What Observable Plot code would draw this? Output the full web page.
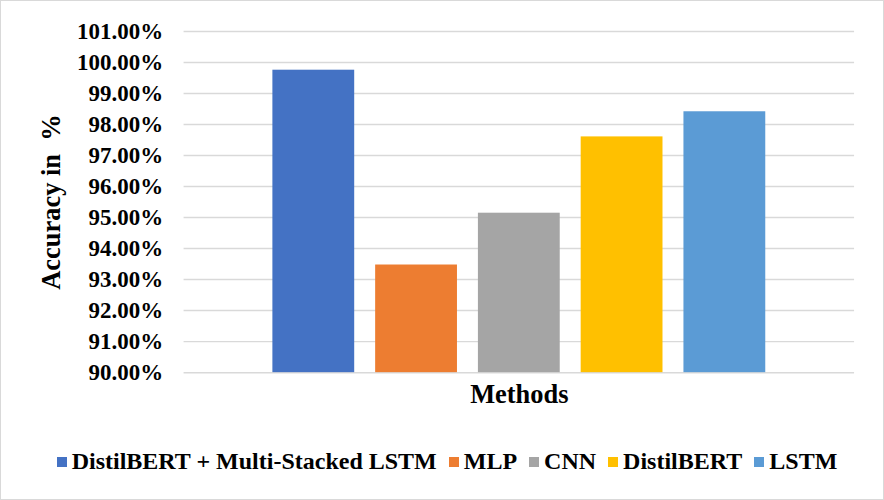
<!DOCTYPE html>
<html>
<head>
<meta charset="utf-8">
<script src="https://cdn.jsdelivr.net/npm/d3@7"></script>
<script src="https://cdn.jsdelivr.net/npm/@observablehq/plot@0.6"></script>
<style>
  html, body { margin: 0; padding: 0; background: #fff; }
  body, #chart, #chart * {
    font-family: "Liberation Serif", "Times New Roman", serif !important;
    font-weight: bold;
  }
  #chart {
    box-sizing: border-box;
    width: 884px; height: 500px;
    border: 1.5px solid #d9d9d9;
    position: relative;
    overflow: hidden;
  }
  #chart svg { position: absolute; left: -1.5px; top: -1.5px; }
  .legend {
    position: absolute; left: 10px; right: 0; top: 447px;
    display: flex; justify-content: center; align-items: center;
    font-size: 24px; color: #000; white-space: nowrap;
  }
  .legend .item { display: flex; align-items: center; margin: 0 6px; }
  .legend .sw { width: 10px; height: 10px; margin-right: 5px; }
</style>
</head>
<body>
<div id="chart"></div>
<script>
// Methods compared and their accuracy (%)
const methods = ["DistilBERT + Multi-Stacked LSTM", "MLP", "CNN", "DistilBERT", "LSTM"];
const accuracy = [99.75, 93.47, 95.14, 97.60, 98.41];
const colors = ["#4472C4", "#ED7D31", "#A5A5A5", "#FFC000", "#5B9BD5"];
const yTicks = [90, 91, 92, 93, 94, 95, 96, 97, 98, 99, 100, 101];
const yTitle = "Accuracy in  %";
const xTitle = "Methods";

const serif = '"Liberation Serif", "Times New Roman", serif';
const rows = methods.map((m, i) => ({method: m, value: accuracy[i]}));
const base = yTicks[0];

const plot = Plot.plot({
  width: 884,
  height: 430,
  marginLeft: 184,
  marginRight: 28,
  marginTop: 31,
  marginBottom: 57,
  style: {
    fontFamily: serif,
    fontWeight: "bold",
    fontSize: "23px",
    color: "#000",
    background: "transparent",
    overflow: "visible"
  },
  x: {domain: methods, range: [272, 768], paddingInner: 0.2, paddingOuter: 0, axis: null},
  y: {domain: [yTicks[0], yTicks[yTicks.length - 1]], axis: null},
  color: {domain: methods, range: colors},
  marks: [
    Plot.gridY(yTicks, {stroke: "#d9d9d9", strokeOpacity: 1, strokeWidth: 1.5}),
    Plot.axisY(yTicks, {
      tickSize: 0, tickPadding: 21, label: null,
      tickFormat: d => d.toFixed(2) + "%",
      fontSize: 23, fontWeight: "bold", fontFamily: serif
    }),
    Plot.barY(rows, {x: "method", y1: () => base, y2: "value", fill: "method"}),
    Plot.text([xTitle], {
      frameAnchor: "bottom", dy: 30, text: d => d,
      fontSize: 26.5, fontWeight: "bold", fontFamily: serif, fill: "#000"
    }),
    Plot.text([yTitle], {
      frameAnchor: "left", dx: -133, rotate: -90, text: d => d,
      textAnchor: "middle", lineAnchor: "middle",
      fontSize: 26.5, fontWeight: "bold", fontFamily: serif, fill: "#000"
    })
  ]
});

const root = document.getElementById("chart");
root.appendChild(plot);

const legend = document.createElement("div");
legend.className = "legend";
methods.forEach((m, i) => {
  const item = document.createElement("span");
  item.className = "item";
  const sw = document.createElement("span");
  sw.className = "sw";
  sw.style.background = colors[i];
  const label = document.createElement("span");
  label.textContent = m;
  item.appendChild(sw);
  item.appendChild(label);
  legend.appendChild(item);
});
root.appendChild(legend);
</script>
</body>
</html>
